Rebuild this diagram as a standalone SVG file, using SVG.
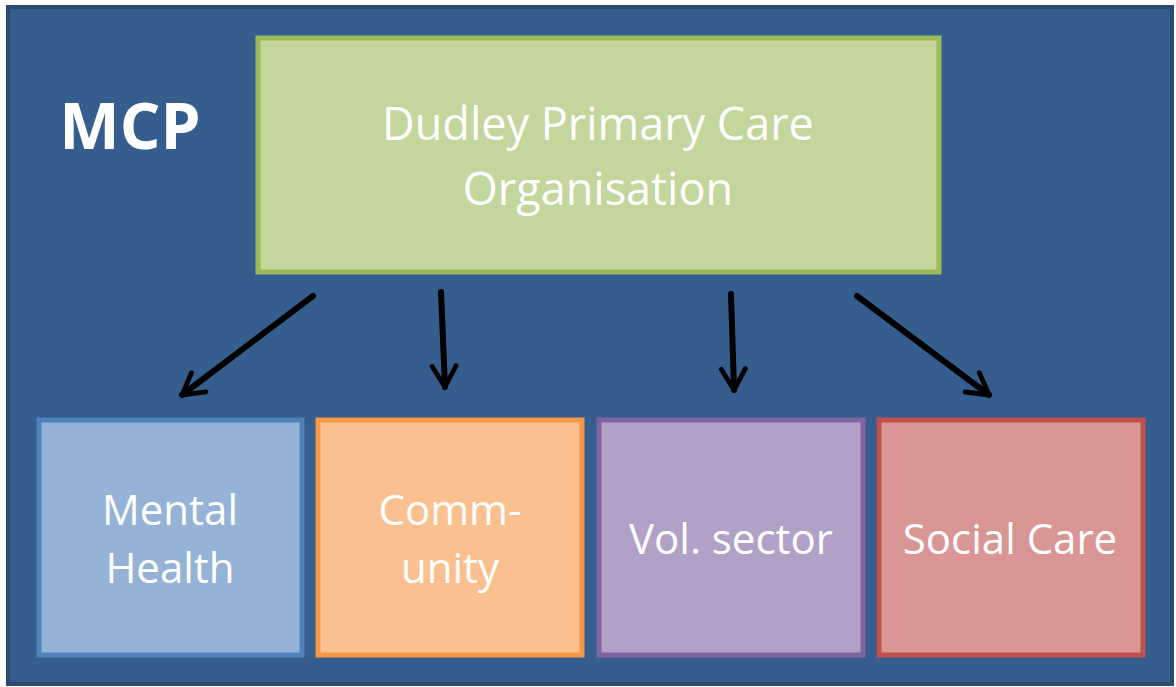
<svg xmlns="http://www.w3.org/2000/svg" width="1176" height="687" viewBox="0 0 1176 687">
<defs>
<style>
.t{font-family:"Open Sans","Noto Sans",sans-serif;fill:#ffffff;text-anchor:middle}
.b{font-size:42px}
.box{stroke-width:5}
.con{stroke:#000;stroke-width:6;fill:none;stroke-linecap:round;stroke-linejoin:round}
</style>
<marker id="ah" viewBox="0 0 10 10" refX="9" refY="5" markerWidth="5" markerHeight="5" orient="auto" markerUnits="strokeWidth">
<path d="M2,1 L9,5 L2,9" fill="none" stroke="#000" stroke-width="1.6" stroke-linecap="round" stroke-linejoin="round"/>
</marker>
</defs>
<rect x="0" y="0" width="1176" height="687" fill="#ffffff"/>
<g id="frame">
<rect x="8" y="7" width="1164" height="677" fill="#355e8f" stroke="#2a4a6f" stroke-width="4"/>
<text class="t" x="130" y="149" font-size="64" font-weight="bold">MCP</text>
</g>
<g id="dudley">
<rect class="box" x="258" y="38" width="681" height="234" fill="#c3d69b" stroke="#9bbb59"/>
<text class="t" x="598" y="140" font-size="45">Dudley Primary Care</text>
<text class="t" x="598" y="205" font-size="45">Organisation</text>
</g>
<g id="mental">
<rect class="box" x="39" y="420" width="263" height="235" fill="#95b3d7" stroke="#4f81bd"/>
<text class="t b" x="170" y="525">Mental</text>
<text class="t b" x="170" y="583">Health</text>
</g>
<g id="community">
<rect class="box" x="318" y="420" width="264" height="235" fill="#fac08f" stroke="#f79646"/>
<text class="t b" x="450" y="525">Comm-</text>
<text class="t b" x="450" y="583">unity</text>
</g>
<g id="vol">
<rect class="box" x="599" y="420" width="264" height="235" fill="#b2a1c7" stroke="#8064a2"/>
<text class="t b" x="731" y="554">Vol. sector</text>
</g>
<g id="social">
<rect class="box" x="879" y="420" width="264" height="235" fill="#d99694" stroke="#c0504d"/>
<text class="t b" x="1010" y="554">Social Care</text>
</g>
<g id="connectors">
<line class="con" x1="313" y1="296" x2="182" y2="395" marker-end="url(#ah)"/>
<line class="con" x1="441" y1="292" x2="445" y2="387" marker-end="url(#ah)"/>
<line class="con" x1="731" y1="294" x2="734" y2="390" marker-end="url(#ah)"/>
<line class="con" x1="857" y1="296" x2="989" y2="395" marker-end="url(#ah)"/>
</g>
</svg>
